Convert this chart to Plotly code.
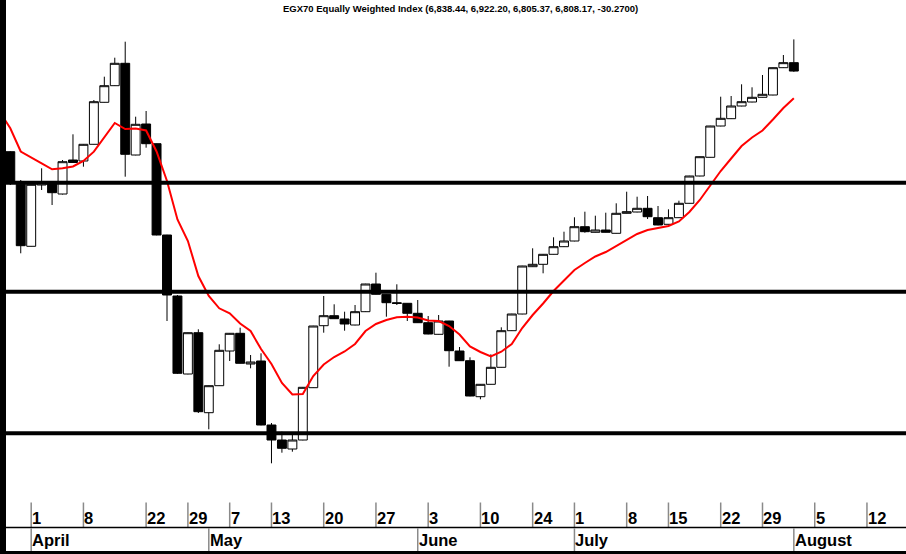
import plotly.graph_objects as go

# ---------------- data ----------------
dates = ["2024-03-28", "2024-03-31", "2024-04-01", "2024-04-02", "2024-04-03", "2024-04-04", "2024-04-07", "2024-04-08",
         "2024-04-15", "2024-04-16", "2024-04-17", "2024-04-18", "2024-04-21", "2024-04-22", "2024-04-23", "2024-04-24",
         "2024-04-28", "2024-04-29", "2024-04-30", "2024-05-02", "2024-05-05", "2024-05-07", "2024-05-08", "2024-05-09",
         "2024-05-12", "2024-05-13", "2024-05-14", "2024-05-15", "2024-05-16", "2024-05-19", "2024-05-20", "2024-05-21",
         "2024-05-22", "2024-05-23", "2024-05-26", "2024-05-27", "2024-05-28", "2024-05-29", "2024-05-30", "2024-06-02",
         "2024-06-03", "2024-06-04", "2024-06-05", "2024-06-06", "2024-06-09", "2024-06-10", "2024-06-11", "2024-06-12",
         "2024-06-13", "2024-06-23", "2024-06-24", "2024-06-25", "2024-06-26", "2024-06-27", "2024-07-01", "2024-07-02",
         "2024-07-03", "2024-07-04", "2024-07-07", "2024-07-08", "2024-07-09", "2024-07-10", "2024-07-14", "2024-07-15",
         "2024-07-16", "2024-07-17", "2024-07-18", "2024-07-21", "2024-07-22", "2024-07-24", "2024-07-25", "2024-07-28",
         "2024-07-29", "2024-07-30", "2024-07-31", "2024-08-01"]
prior_day = ["2024-03-27"]
future_days = ["2024-08-04", "2024-08-05", "2024-08-06", "2024-08-07", "2024-08-08", "2024-08-11", "2024-08-12"]

opens = [6517.9, 6400.5, 6177.3, 6398.0, 6404.1, 6365.6, 6488.0, 6484.4, 6544.5, 6695.7, 6755.5, 6836.1, 6506.0,
         6617.6, 6546.7, 6218.0, 5998.4, 5717.6, 5866.3, 5578.3, 5675.5, 5800.4, 5864.1, 5753.6, 5764.4, 5534.0,
         5480.0, 5447.6, 5480.0, 5668.3, 5891.5, 5927.5, 5915.6, 5894.0, 5941.9, 6041.6, 6004.5, 5974.3, 5972.1,
         5936.1, 5902.3, 5860.5, 5908.4, 5800.4, 5765.5, 5635.9, 5680.5, 5741.7, 5873.5, 5933.6, 6103.9, 6112.5,
         6148.5, 6175.9, 6196.4, 6247.9, 6227.7, 6236.0, 6224.1, 6296.1, 6300.8, 6314.1, 6280.3, 6256.5, 6280.3,
         6332.1, 6430.4, 6497.7, 6610.4, 6636.7, 6682.4, 6696.8, 6713.7, 6722.0, 6820.3, 6838.44]
highs = [6520.4, 6416.0, 6402.0, 6458.1, 6405.2, 6488.0, 6580.5, 6545.6, 6704.0, 6787.9, 6856.3, 6913.9, 6643.9,
         6664.4, 6547.4, 6218.7, 6002.0, 5867.0, 5878.5, 5676.2, 5824.5, 5865.2, 5884.3, 5786.0, 5792.1, 5541.2,
         5509.9, 5501.6, 5670.8, 5891.1, 5998.4, 5968.5, 5941.9, 5966.0, 6042.3, 6082.3, 6005.6, 6040.5, 5973.2,
         5984.0, 5926.4, 5930.0, 5909.1, 5814.8, 5777.7, 5681.6, 5788.5, 5885.7, 5934.3, 6107.1, 6170.1, 6149.6,
         6209.7, 6229.9, 6281.7, 6301.9, 6287.5, 6298.3, 6332.1, 6373.9, 6355.9, 6358.4, 6322.4, 6310.5, 6341.5,
         6431.1, 6500.6, 6611.1, 6715.9, 6718.4, 6760.5, 6749.7, 6794.0, 6821.0, 6866.0, 6922.20]
lows = [6398.0, 6152.1, 6176.6, 6380.0, 6326.0, 6363.8, 6477.2, 6463.9, 6543.8, 6695.0, 6754.4, 6427.9, 6504.9,
        6532.3, 6216.9, 5908.4, 5717.6, 5716.5, 5577.2, 5518.5, 5674.4, 5764.4, 5755.4, 5738.1, 5532.9, 5396.1,
        5434.3, 5437.9, 5478.9, 5667.2, 5866.3, 5915.6, 5873.5, 5892.9, 5940.8, 6003.8, 5923.9, 5966.0, 5908.4,
        5901.2, 5860.5, 5859.8, 5743.9, 5764.4, 5637.3, 5626.5, 5679.8, 5741.0, 5872.4, 5932.5, 6102.8, 6080.1,
        6147.8, 6174.8, 6195.3, 6226.3, 6227.0, 6227.0, 6223.4, 6295.4, 6299.7, 6275.6, 6252.9, 6255.8, 6279.2,
        6331.4, 6429.3, 6497.0, 6609.3, 6635.6, 6681.3, 6695.7, 6713.0, 6720.9, 6819.2, 6805.37]
closes = [6404.1, 6179.5, 6400.5, 6408.8, 6370.3, 6481.9, 6479.0, 6544.5, 6697.9, 6755.5, 6836.1, 6508.5, 6616.5,
          6546.7, 6218.0, 6002.0, 5720.1, 5866.3, 5581.9, 5675.5, 5802.9, 5864.1, 5756.1, 5760.8, 5534.0, 5480.0,
          5450.1, 5480.0, 5669.7, 5890.4, 5927.5, 5916.7, 5897.6, 5941.9, 6041.6, 6004.5, 5974.3, 5971.4, 5936.1,
          5902.3, 5861.6, 5908.4, 5801.5, 5765.5, 5638.4, 5680.5, 5741.7, 5873.5, 5933.6, 6106.4, 6112.5, 6148.5,
          6175.9, 6196.4, 6247.9, 6229.9, 6236.0, 6227.7, 6296.1, 6301.9, 6314.1, 6283.9, 6254.0, 6280.3, 6332.1,
          6430.4, 6499.9, 6610.4, 6638.1, 6682.4, 6697.9, 6713.7, 6724.5, 6820.3, 6838.44, 6808.17]
# moving average (red line), first value belongs to prior_day
ma_values = [6660.8, 6602.1, 6518.6, 6498.8, 6476.1, 6454.5, 6458.1, 6464.6, 6484.4, 6517.9, 6570.8, 6621.2, 6599.6,
             6601.4, 6594.2, 6518.6, 6412.4, 6273.8, 6196.4, 6070.4, 5998.4, 5954.1, 5936.1, 5899.4, 5872.4, 5807.6,
             5753.6, 5685.2, 5643.8, 5645.6, 5710.4, 5751.8, 5778.8, 5798.6, 5825.6, 5872.4, 5897.6, 5912.0, 5921.7,
             5923.9, 5921.0, 5910.2, 5908.4, 5890.4, 5859.8, 5816.6, 5796.8, 5780.6, 5797.9, 5825.6, 5883.2, 5930.0,
             5971.4, 6016.4, 6054.2, 6092.0, 6117.2, 6140.6, 6156.8, 6178.4, 6200.0, 6221.6, 6236.0, 6243.2, 6250.4,
             6266.6, 6300.8, 6344.0, 6396.2, 6448.4, 6493.4, 6538.4, 6569.0, 6594.2, 6633.8, 6675.2, 6710.1]
levels = [6406, 6014, 5504]

tick_dates = ["2024-04-01", "2024-04-08", "2024-04-22", "2024-04-29", "2024-05-07", "2024-05-13", "2024-05-20",
              "2024-05-27", "2024-06-03", "2024-06-10", "2024-06-24", "2024-07-01", "2024-07-08", "2024-07-15",
              "2024-07-22", "2024-07-29", "2024-08-05", "2024-08-12"]
tick_labels = ["1", "8", "22", "29", "7", "13", "20", "27", "3", "10", "24", "1", "8", "15", "22", "29", "5", "12"]
month_dates = ["2024-04-01", "2024-05-02", "2024-06-02", "2024-07-01", "2024-08-01"]
month_labels = ["April", "May", "June", "July", "August"]

title_text = "EGX70 Equally Weighted Index (6,838.44, 6,922.20, 6,805.37, 6,808.17, -30.2700)"

# ---------------- positions (trading-day index) ----------------
calendar = prior_day + dates + future_days
pos = {d: i - 1 for i, d in enumerate(calendar)}
xc = [pos[d] for d in dates]
xma = [pos[d] for d in prior_day + dates]

W, H = 906, 554
plot_h = 500
x_lo, x_hi = -0.9856, 85.737
y_lo, y_hi = 5264, 7064

fig = go.Figure()
fig.add_trace(go.Candlestick(
    x=xc, open=opens, high=highs, low=lows, close=closes,
    increasing=dict(line=dict(color="black", width=1), fillcolor="white"),
    decreasing=dict(line=dict(color="black", width=1), fillcolor="black"),
    whiskerwidth=0, showlegend=False, hoverinfo="skip"))
fig.add_trace(go.Scatter(x=xma, y=ma_values, mode="lines",
                         line=dict(color="#ff0000", width=2), showlegend=False, hoverinfo="skip"))

shapes = []
for lv in levels:
    shapes.append(dict(type="line", xref="paper", yref="y", x0=0, x1=1, y0=lv, y1=lv,
                       line=dict(color="black", width=4), layer="above"))

def py(px):
    return (plot_h - px) / plot_h

annotations = []
tick_font = dict(family="Liberation Sans, Arial, sans-serif", size=16.5, color="black")
for d, lab in zip(tick_dates, tick_labels):
    x = pos[d]
    shapes.append(dict(type="line", xref="x", yref="paper", x0=x, x1=x, y0=py(502.5), y1=py(527),
                       line=dict(color="#8a8a8a", width=1.5)))
    annotations.append(dict(x=x, y=py(518), xref="x", yref="paper", text="<b>%s</b>" % lab, showarrow=False,
                            xanchor="left", yanchor="middle", xshift=-1, font=tick_font))
for d, lab in zip(month_dates, month_labels):
    x = pos[d]
    shapes.append(dict(type="line", xref="x", yref="paper", x0=x, x1=x, y0=py(528.5), y1=py(551),
                       line=dict(color="#8a8a8a", width=1.5)))
    annotations.append(dict(x=x, y=py(540), xref="x", yref="paper", text="<b>%s</b>" % lab, showarrow=False,
                            xanchor="left", yanchor="middle", xshift=-1, font=tick_font))

# frame pieces
shapes.append(dict(type="line", xref="paper", yref="paper", x0=0, x1=1, y0=py(527.6), y1=py(527.6),
                   line=dict(color="black", width=1.5)))
shapes.append(dict(type="rect", xref="paper", yref="paper", x0=0, x1=1, y0=py(551), y1=py(554),
                   fillcolor="black", line=dict(width=0)))
shapes.append(dict(type="rect", xref="paper", yref="paper", x0=0, x1=6 / W, y0=py(554), y1=1,
                   fillcolor="black", line=dict(width=0), layer="above"))

annotations.append(dict(x=460 / W, y=py(8), xref="paper", yref="paper", text="<b>%s</b>" % title_text,
                        showarrow=False, xanchor="center", yanchor="middle",
                        font=dict(family="Liberation Sans Narrow, Arial Narrow, Liberation Sans, Arial", size=9.5,
                                  color="black")))

fig.update_layout(
    width=W, height=H, margin=dict(l=0, r=0, t=0, b=H - plot_h, pad=0),
    paper_bgcolor="white", plot_bgcolor="white",
    xaxis=dict(range=[x_lo, x_hi], visible=False, rangeslider=dict(visible=False), fixedrange=True),
    yaxis=dict(range=[y_lo, y_hi], visible=False, fixedrange=True),
    boxgap=0.1, boxgroupgap=0.05,
    shapes=shapes, annotations=annotations, showlegend=False,
)
fig.write_html("out.html", config={"displayModeBar": False},
               post_script="document.body.style.margin='0';document.body.style.padding='0';"
                           "document.body.style.overflow='hidden';")
